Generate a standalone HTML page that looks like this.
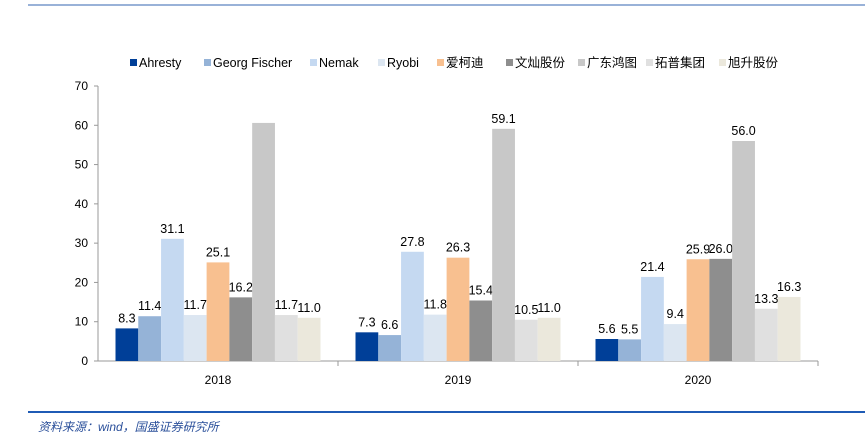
<!DOCTYPE html>
<html><head><meta charset="utf-8">
<style>
body{margin:0;background:#fff;}
svg{display:block;font-family:"Liberation Sans","Noto Sans CJK SC",sans-serif;}
</style></head><body>
<svg id="chart" width="865" height="445">
<line x1="28" y1="5" x2="865" y2="5" stroke="#3366b0" stroke-width="1"/>
<line x1="28" y1="412" x2="865" y2="412" stroke="#1f5bb5" stroke-width="2"/>
<text x="38" y="431" font-size="12" font-style="italic" fill="#2a4f9a">资料来源：wind，国盛证券研究所</text>
<g id="legend"></g>
<g id="axes"></g>
<g id="bars"></g>
</svg>
<script>
const categories=["2018","2019","2020"];
const seriesNames=["Ahresty","Georg Fischer","Nemak","Ryobi","爱柯迪","文灿股份","广东鸿图","拓普集团","旭升股份"];
const sAhresty=[8.3,7.3,5.6];
const sGeorg=[11.4,6.6,5.5];
const sNemak=[31.1,27.8,21.4];
const sRyobi=[11.7,11.8,9.4];
const sAikedi=[25.1,26.3,25.9];
const sWencan=[16.2,15.4,26.0];
const sGuangdong=[60.6,59.1,56.0];
const sTuopu=[11.7,10.5,13.3];
const sXusheng=[11.0,11.0,16.3];
const showLabel=[[1,1,1],[1,1,1],[1,1,1],[1,1,1],[1,1,1],[1,1,1],[0,1,1],[1,1,1],[1,1,1]];
const yTicks=[0,10,20,30,40,50,60,70];
const series=[sAhresty,sGeorg,sNemak,sRyobi,sAikedi,sWencan,sGuangdong,sTuopu,sXusheng];
const colors=["#003f98","#95b3d7","#c5d9f1","#dce6f1","#f8c090","#8e8e8e","#c8c8c8","#e0e0e0","#ebe8dc"];
const legendX=[130,204,310,378,437,506,578,646,719];
const NS="http://www.w3.org/2000/svg";
const X0=98,X1=818,Y0=361,Ytop=86,YMAX=70;
const y=v=>Y0-(v/YMAX)*(Y0-Ytop);
const gw=(X1-X0)/categories.length, pad=17.5, bw=(gw-2*pad)/series.length;
function mk(tag,attrs,parent){const e=document.createElementNS(NS,tag);for(const k in attrs)e.setAttribute(k,attrs[k]);parent.appendChild(e);return e;}
const axes=document.getElementById('axes'),bars=document.getElementById('bars'),leg=document.getElementById('legend');
let a=mk('line',{x1:X0,y1:Ytop,x2:X0,y2:Y0,stroke:'#999'},axes);


a=mk('line',{x1:X0,y1:Y0,x2:X1,y2:Y0,stroke:'#999'},axes);


yTicks.forEach(t=>{
 mk('line',{x1:X0-4,y1:y(t),x2:X0,y2:y(t),stroke:'#999'},axes);
 const tx=mk('text',{x:X0-10,y:y(t)+4,'text-anchor':'end','font-size':12,fill:'#000'},axes);
 tx.textContent=t;
 
 
});
categories.forEach((c,i)=>{
 const gx=X0+i*gw;
 mk('line',{x1:gx+gw,y1:Y0,x2:gx+gw,y2:Y0+5,stroke:'#999'},axes);
 const tx=mk('text',{x:gx+gw/2,y:Y0+23,'text-anchor':'middle','font-size':12,fill:'#000'},axes);
 tx.textContent=c;
 
 
 series.forEach((s,j)=>{
  const bx=gx+pad+j*bw;
  const r=mk('rect',{x:bx,y:y(s[i]),width:bw,height:Y0-y(s[i]),fill:colors[j]},bars);
  
  
  if(showLabel[j][i]){
   const t=mk('text',{x:bx+bw/2,y:y(s[i])-6,'text-anchor':'middle','font-size':12.5,fill:'#000'},bars);
   t.textContent=s[i].toFixed(1);
   
   
  }
 });
});
seriesNames.forEach((n,j)=>{
 const g=mk('g',{},leg);
 
 
 mk('rect',{x:legendX[j],y:59,width:7,height:7,fill:colors[j]},g);
 const t=mk('text',{x:legendX[j]+9,y:67,'font-size':12.5,fill:'#000'},g);
 t.textContent=n;
});
</script>
</body></html>
